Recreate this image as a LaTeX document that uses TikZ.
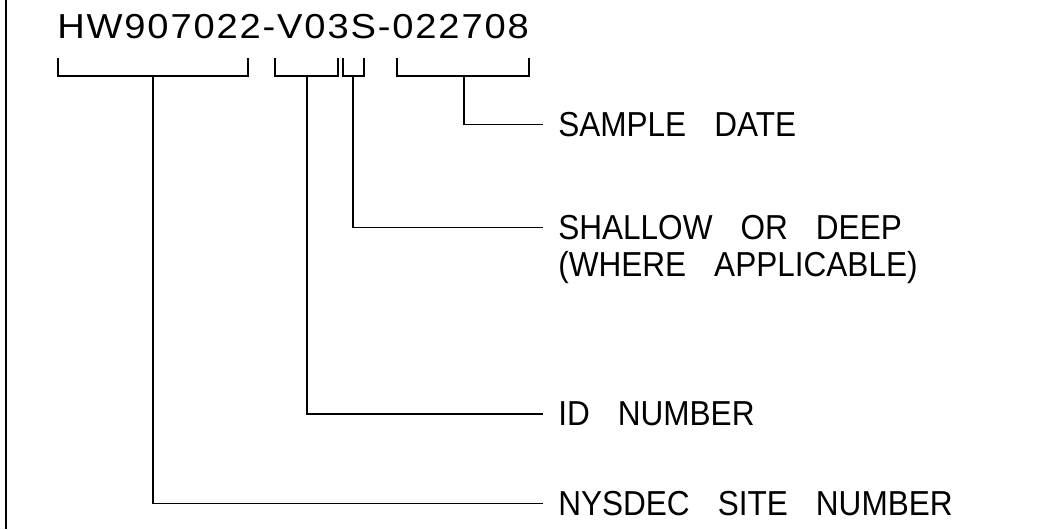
\documentclass[tikz,border=0pt]{standalone}
\usepackage{fontspec}
\setmainfont{Liberation Sans}[FakeStretch=0.91, WordSpace=3.2]
\newfontfamily\codefont{Liberation Sans}[FakeStretch=1.1, LetterSpace=5.3]
\usetikzlibrary{positioning}

\begin{document}
\begin{tikzpicture}[
  x=0.75pt, y=-0.75pt,
  lead/.style={line width=1.4pt, line join=miter},
  tag/.style={anchor=base west, inner sep=0pt, font=\fontsize{26}{30}\selectfont}
]
  \useasboundingbox (0,0) rectangle (1038,529);
  \draw[lead] (6,0) -- (6,529);

  % sample code and its brackets
  \node[tag, font=\fontsize{26}{30}\codefont] (code) at (57,38) {HW907022-V03S-022708};
  \foreach \l/\r/\s/\n in {58/248/153/site, 275/338/307/id, 343/364/353/depth, 397/529/464/date} {
    \draw[lead] (\l,58) -- (\l,76) -- (\r,76) -- (\r,58);
    \coordinate (\n-stem) at (\s,76);
  }

  % labels
  \node[tag] (date) at (558,136.4) {SAMPLE DATE};
  \node[tag] (shallow) at (558,239.4) {SHALLOW OR DEEP};
  \node[tag, below=27.75pt of shallow.base west, anchor=base west] (where) {(WHERE APPLICABLE)};
  \node[tag] (idnum) at (558,425.4) {ID NUMBER};
  \node[tag] (sitenum) at (558,515.4) {NYSDEC SITE NUMBER};

  \draw[lead] (date-stem) |- ([xshift=-11.25pt]date.west);
  \draw[lead] (depth-stem) |- ([xshift=-11.25pt]shallow.west);
  \draw[lead] (id-stem) |- ([xshift=-11.25pt]idnum.west);
  \draw[lead] (site-stem) |- ([xshift=-11.25pt]sitenum.west);
\end{tikzpicture}
\end{document}
